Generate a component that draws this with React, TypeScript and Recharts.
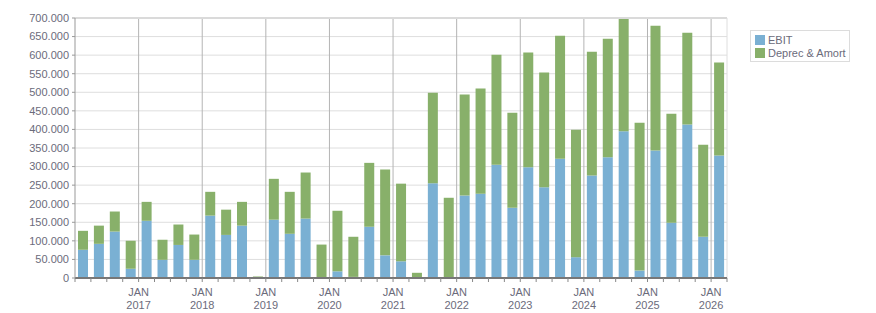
import { BarChart, Bar, XAxis, YAxis, CartesianGrid, ReferenceLine } from 'recharts';

const quarters = [
  '2016 Q1', '2016 Q2', '2016 Q3', '2016 Q4',
  '2017 Q1', '2017 Q2', '2017 Q3', '2017 Q4',
  '2018 Q1', '2018 Q2', '2018 Q3', '2018 Q4',
  '2019 Q1', '2019 Q2', '2019 Q3', '2019 Q4',
  '2020 Q1', '2020 Q2', '2020 Q3', '2020 Q4',
  '2021 Q1', '2021 Q2', '2021 Q3', '2021 Q4',
  '2022 Q1', '2022 Q2', '2022 Q3', '2022 Q4',
  '2023 Q1', '2023 Q2', '2023 Q3', '2023 Q4',
  '2024 Q1', '2024 Q2', '2024 Q3', '2024 Q4',
  '2025 Q1', '2025 Q2', '2025 Q3', '2025 Q4',
  '2026 Q1',
];

// thousands
const ebit = [
  76, 92, 125, 25, 154, 49, 89, 49, 168, 116, 141, 0, 157, 119, 160, 2,
  18, 3, 138, 61, 45, 2, 255, 2, 222, 227, 305, 189, 298, 244, 321, 56,
  276, 325, 395, 20, 343, 149, 413, 111, 330,
];
const deprec = [
  51, 49, 54, 75, 51, 54, 55, 68, 64, 68, 64, 4, 110, 113, 124, 88,
  163, 108, 172, 231, 209, 12, 244, 214, 272, 283, 296, 256, 309, 309, 331, 343,
  333, 319, 305, 398, 336, 293, 247, 248, 250,
];

const yTicks = [0, 50000, 100000, 150000, 200000, 250000, 300000, 350000, 400000, 450000, 500000, 550000, 600000, 650000, 700000];
const janYears = [2017, 2018, 2019, 2020, 2021, 2022, 2023, 2024, 2025, 2026];

const data = quarters.map((q, i) => ({
  q,
  pos: i + 0.5,
  ebit: ebit[i] * 1000,
  deprec: deprec[i] * 1000,
}));

const xTicks = quarters.map((_, i) => i).concat(quarters.length);
const janPositions = janYears.map(y => (y - 2016) * 4);

const BLUE = '#7ab0d3';
const GREEN = '#88b06a';
const TEXT = '#6b6b7b';
const FONT = '"Liberation Sans", Arial, sans-serif';

const legendItems = [
  { name: 'EBIT', color: BLUE },
  { name: 'Deprec & Amort', color: GREEN },
];

const fmt = (v: number) => String(v).replace(/\B(?=(\d{3})+(?!\d))/g, '.');

function XTick({ x, y, payload }: { x?: number; y?: number; payload?: { value: number } }) {
  const v = payload?.value ?? 0;
  const idx = janPositions.indexOf(v);
  if (idx < 0) return null;
  return (
    <g>
      <text x={x} y={(y ?? 0) + 12} textAnchor="middle" fill={TEXT} fontSize={11} fontFamily={FONT}>JAN</text>
      <text x={x} y={(y ?? 0) + 25} textAnchor="middle" fill={TEXT} fontSize={11} fontFamily={FONT}>{janYears[idx]}</text>
    </g>
  );
}

export default function App() {
  return (
    <div style={{ position: 'absolute', left: 0, top: 0, width: 876, height: 313, background: '#fff' }}>
      <BarChart width={876} height={313} data={data} margin={{ top: 18, right: 149, left: 0, bottom: 0 }}>
        <CartesianGrid vertical={false} stroke="#dedede" />
        <CartesianGrid horizontal={false} verticalValues={janPositions} stroke="#b4b4b4" />
        <XAxis
          dataKey="pos"
          type="number"
          domain={[0, quarters.length]}
          ticks={xTicks}
          interval={0}
          height={35}
          tick={<XTick />}
          tickSize={4}
          tickMargin={2}
          axisLine={{ stroke: '#777', strokeWidth: 2 }}
          tickLine={{ stroke: '#888' }}
          allowDataOverflow
        />
        <YAxis
          width={75}
          domain={[0, 700000]}
          ticks={yTicks}
          interval={0}
          tickFormatter={fmt}
          tick={{ fill: TEXT, fontSize: 11, fontFamily: FONT }}
          tickSize={3}
          tickMargin={3}
          axisLine={{ stroke: '#999' }}
          tickLine={{ stroke: '#999' }}
        />
        <ReferenceLine y={700000} stroke="#dadada" strokeWidth={2} />
        <ReferenceLine x={quarters.length} stroke="#dedede" />
        <Bar dataKey="ebit" name="EBIT" stackId="a" fill={BLUE} barSize={10} isAnimationActive={false} />
        <Bar dataKey="deprec" name="Deprec & Amort" stackId="a" fill={GREEN} barSize={10} isAnimationActive={false} />
      </BarChart>
      <div style={{
        position: 'absolute',
        left: 750,
        top: 30,
        border: '1px solid #dcdcdc',
        padding: '2px 3px 2px 4px',
        fontFamily: FONT,
        fontSize: 11,
        color: TEXT,
        background: '#fff',
        whiteSpace: 'nowrap',
      }}>
        {legendItems.map(p => (
          <div key={p.name} style={{ display: 'flex', alignItems: 'center', height: 13 }}>
            <span style={{ width: 10, height: 10, background: p.color, marginRight: 3, display: 'inline-block' }} />
            {p.name}
          </div>
        ))}
      </div>
    </div>
  );
}
